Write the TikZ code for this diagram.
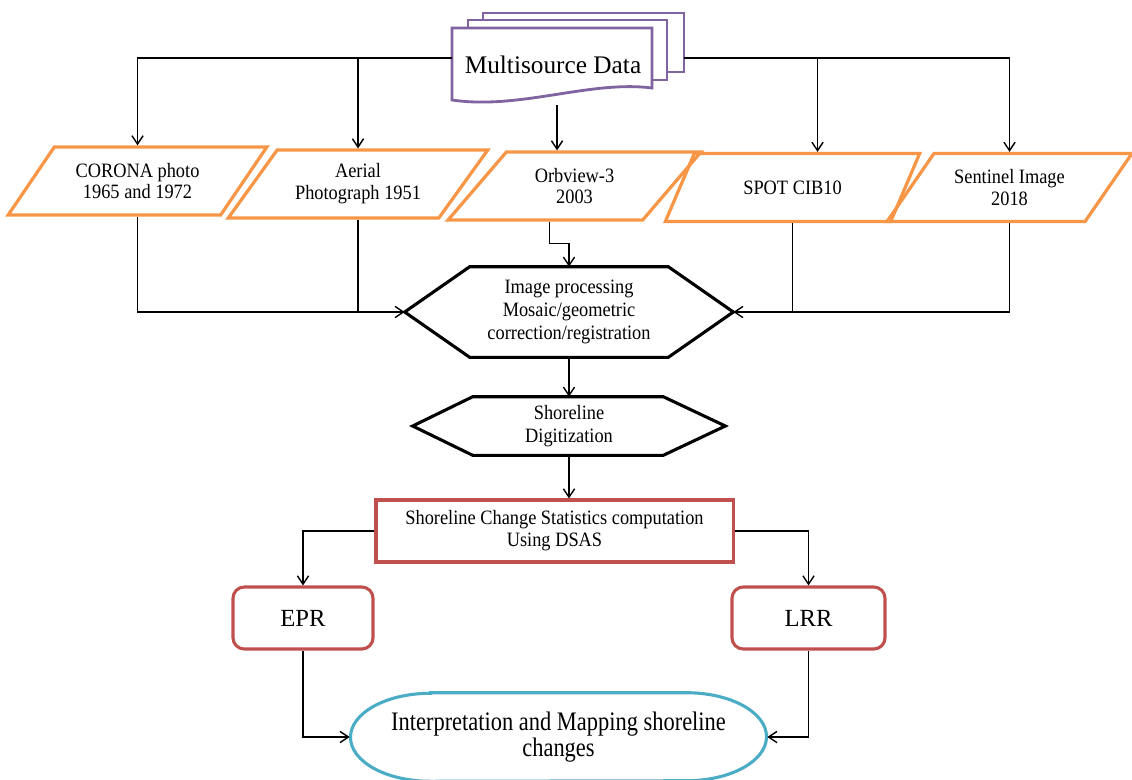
\documentclass[tikz,border=0pt]{standalone}
\usepackage{fontspec}
\setmainfont{Liberation Serif}
\newfontfamily\narrowSerif{Liberation Serif}[FakeStretch=0.9]
\newfontfamily\narrowerSerif{Liberation Serif}[FakeStretch=0.84]
\usetikzlibrary{calc,positioning,arrows.meta,shapes.geometric}
\definecolor{srcOrange}{RGB}{247,150,70}
\definecolor{docPurple}{RGB}{128,100,162}
\definecolor{dsasRed}{RGB}{192,80,77}
\definecolor{mapAqua}{RGB}{75,172,198}

\begin{document}
\begin{tikzpicture}[x=0.025cm,y=-0.025cm,
    srcBox/.style={trapezium, trapezium left angle=48, trapezium right angle=132,
        trapezium stretches=true, draw=srcOrange, line width=2.3pt,
        minimum height=1.7cm, align=center, inner sep=1pt,
        font=\narrowSerif\fontsize{14.5}{15.6}\selectfont},
    hexText/.style={minimum height=#1, align=center, inner sep=0pt,
        font=\narrowSerif\fontsize{14.5}{16.3}\selectfont},
    hexLine/.style={draw=black, line width=2.2pt, line join=miter},
    rateBox/.style={draw=dsasRed, line width=2.2pt, rounded corners=8pt,
        minimum height=1.55cm, font=\fontsize{17.5}{20}\selectfont},
    docLine/.style={draw=docPurple, line width=2pt, fill=white},
    flowLine/.style={line width=1pt},
    flowArrow/.style={flowLine, -{Straight Barb[length=6pt,width=8pt]}}
]
\useasboundingbox (0,0) rectangle (1132,779);

% multisource data stack
\coordinate (cDocPt) at (452,28);
\draw[docLine] ($(cDocPt)+(31,-15)$) rectangle ($(cDocPt)+(232,44)$);
\draw[docLine] ($(cDocPt)+(16,-8)$) rectangle ($(cDocPt)+(215,52)$);
\draw[docLine] (cDocPt) -- ++(200,0) -- ++(0,60)
    .. controls ($(cDocPt)+(138,52)$) and ($(cDocPt)+(68,82)$) .. ($(cDocPt)+(0,72)$) -- cycle;
\node[font=\fontsize{18}{20}\selectfont, inner sep=0pt] (nMsd) at ($(cDocPt)+(101,37)$) {Multisource Data};

\coordinate (cLeftPt) at ($(cDocPt)+(0,30)$);
\coordinate (cRightPt) at ($(cDocPt)+(232,30)$);
\coordinate (cMidPt) at ($(cDocPt)+(105,77)$);

% sources
\node[srcBox, minimum width=6.475cm] (nCorona) at (137.5,181) {CORONA photo\\1965 and 1972};
\node[srcBox, minimum width=6.5cm] (nAerial) at (358,184) {Aerial\\Photograph 1951};
\node[srcBox, minimum width=6.325cm] (nOrbview) at (574.5,186) {Orbview-3\\2003};
\node[srcBox, minimum width=6.375cm] (nSpot) at (792.5,187.5) {SPOT CIB10};
\node[srcBox, minimum width=6.125cm] (nSentinel) at (1009.5,187.5) {Sentinel Image\\2018};

% processing chain
\node[hexText=2.25cm, minimum width=8.2cm] (nProc) at (569,312)
    {Image processing\\Mosaic/geometric\\correction/registration};
\draw[hexLine] (nProc.west) -- ($(nProc.north west)+(65,0)$) -- ($(nProc.north east)+(-65,0)$)
    -- (nProc.east) -- ($(nProc.south east)+(-65,0)$) -- ($(nProc.south west)+(65,0)$) -- cycle;
\node[hexText=1.45cm, minimum width=7.8cm] (nDigit) at (569,426) {Shoreline\\Digitization};
\draw[hexLine] (nDigit.west) -- ($(nDigit.north west)+(60,0)$) -- ($(nDigit.north east)+(-62,0)$)
    -- (nDigit.east) -- ($(nDigit.south east)+(-62,0)$) -- ($(nDigit.south west)+(60,0)$) -- cycle;
\node[draw=dsasRed, line width=2.2pt, minimum width=8.925cm, minimum height=1.55cm,
    align=center, font=\narrowSerif\fontsize{14.5}{15.6}\selectfont]
    (nDsas) at (554.5,531) {Shoreline Change Statistics computation\\Using DSAS};
\node[rateBox, minimum width=3.5cm] (nEpr) at (303,618) {EPR};
\node[rateBox, minimum width=3.825cm] (nLrr) at (808.5,618) {LRR};
\node[minimum width=10.425cm, minimum height=2.2cm, align=center,
    font=\narrowerSerif\fontsize{19}{18.4}\selectfont] (nMap) at (558.5,737)
    {Interpretation and Mapping shoreline\\changes};
\draw[draw=mapAqua, line width=2.2pt] ($(nMap.north)+(-128,0)$) -- ($(nMap.north)+(128,0)$)
    arc[start angle=90, end angle=-90, x radius=2cm, y radius=1.1cm]
    -- ($(nMap.south)+(-128,0)$)
    arc[start angle=270, end angle=90, x radius=2cm, y radius=1.1cm] -- cycle;

% connectors
\coordinate (cSpotTop) at ($(nSpot.north)+(25,0)$);
\coordinate (cOrbOut) at ($(nOrbview.south)+(-25,0)$);
\draw[flowArrow] (cLeftPt) -| (nCorona.north);
\draw[flowArrow] (cLeftPt -| nAerial.north) -- (nAerial.north);
\draw[flowArrow] (cRightPt) -| (nSentinel.north);
\draw[flowArrow] (cRightPt -| cSpotTop) -- (cSpotTop);
\draw[flowArrow] (cMidPt) -- (cMidPt |- nOrbview.north);

\draw[flowArrow] (cOrbOut) -- ++(0,22) -| (nProc.north);
\draw[flowArrow] (nCorona.south) |- (nProc.west);
\draw[flowLine] (nAerial.south) -- (nAerial.south |- nProc.west);
\draw[flowArrow] (nSentinel.south) |- (nProc.east);
\draw[flowLine] (nSpot.south) -- (nSpot.south |- nProc.east);

\draw[flowArrow] (nProc.south) -- (nDigit.north);
\draw[flowArrow] (nDigit.south) -- (nDigit.south |- nDsas.north);
\draw[flowArrow] (nDsas.west) -| (nEpr.north);
\draw[flowArrow] (nDsas.east) -| (nLrr.north);
\draw[flowArrow] (nEpr.south) |- (nMap.west);
\draw[flowArrow] (nLrr.south) |- (nMap.east);

\end{tikzpicture}
\end{document}
